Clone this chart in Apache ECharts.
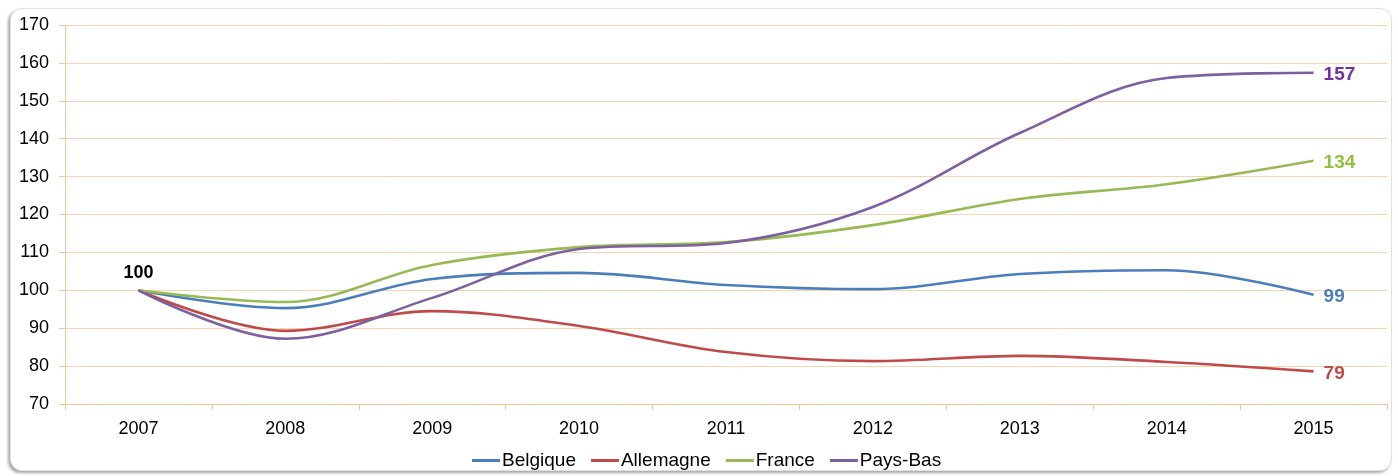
<!DOCTYPE html>
<html>
<head>
<meta charset="utf-8">
<script src="https://cdn.jsdelivr.net/npm/echarts@6/dist/echarts.min.js"></script>
<style>
html,body{margin:0;padding:0;background:#fff;}
#wrap{position:relative;width:1398px;height:476px;overflow:hidden;background:#fff;}
#frame{position:absolute;left:10px;top:8px;width:1380px;height:461px;border:1px solid #e0e0e0;border-radius:12px;box-shadow:-2px 2px 3px rgba(0,0,0,0.35);background:#fff;}
#chart{position:absolute;left:0;top:0;width:1398px;height:476px;}
</style>
</head>
<body>
<div id="wrap"><div id="frame"></div><div id="chart"></div></div>
<script>
var categories = ['2007','2008','2009','2010','2011','2012','2013','2014','2015'];
var belgique  = [100, 95.3, 103.0, 104.6, 101.4, 100.3, 104.3, 105.3, 98.8];
var allemagne = [100, 89.3, 94.5, 90.6, 83.7, 81.3, 82.7, 81.1, 78.6];
var france    = [100, 96.9, 106.7, 111.4, 112.7, 117.2, 124.1, 128.0, 134.2];
var paysBas   = [100, 87.2, 98.0, 110.9, 112.5, 122.0, 141.5, 156.0, 157.4];
var seriesNames = ['Belgique','Allemagne','France','Pays-Bas'];
var endLabels = ['99','79','134','157'];
var startLabel = '100';
var colors = ['#4a7ebb','#be4b48','#98b954','#7d60a0'];
var labelColors = ['#4a7ebb','#be4b48','#92c33e','#7030a0'];

var font = '"Liberation Sans", Arial, Helvetica, sans-serif';
var all = [belgique, allemagne, france, paysBas];

function buildData(arr, idx){
  return arr.map(function(v, i){
    if (i === arr.length - 1) {
      return {value: v, label: {show: true, position: 'right', distance: 10, offset: [0, 2], formatter: endLabels[idx],
        color: labelColors[idx], fontWeight: 'bold', fontSize: 19, fontFamily: font}};
    }
    if (i === 0 && idx === 3) {
      return {value: v, label: {show: true, position: 'top', distance: 8, formatter: startLabel,
        color: '#000', fontWeight: 'bold', fontSize: 18, fontFamily: font}};
    }
    return v;
  });
}

var series = all.map(function(arr, idx){
  return {
    name: seriesNames[idx], type: 'line', smooth: 0.35, showSymbol: true, symbol: 'circle', symbolSize: 0.01,
    lineStyle: {width: 2.6, color: colors[idx]}, itemStyle: {color: colors[idx]},
    label: {show: false},
    data: buildData(arr, idx), z: 2 + idx
  };
});

var chart = echarts.init(document.getElementById('chart'), null, {renderer: 'canvas'});
chart.setOption({
  animation: false,
  color: colors,
  grid: {left: 65, right: 11, top: 25, bottom: 72, containLabel: false},
  legend: {
    bottom: 1, left: 467, icon: 'rect', itemWidth: 28, itemHeight: 3, itemGap: 15,
    textStyle: {fontFamily: font, fontSize: 19, color: '#000', padding: [0,0,0,-3]},
    data: seriesNames
  },
  xAxis: {
    type: 'category', data: categories, boundaryGap: true,
    axisLine: {lineStyle: {color: '#f5c59a', width: 1}},
    axisTick: {show: true, length: 6, lineStyle: {color: '#f5c59a'}},
    axisLabel: {fontFamily: font, fontSize: 18, color: '#000', margin: 16},
    splitLine: {show: false}
  },
  yAxis: {
    type: 'value', min: 70, max: 170, interval: 10,
    axisLine: {show: true, lineStyle: {color: '#f5c59a', width: 1}},
    axisTick: {show: true, length: 6, lineStyle: {color: '#f5c59a'}},
    axisLabel: {fontFamily: font, fontSize: 18, color: '#000', margin: 16},
    splitLine: {show: true, lineStyle: {color: '#f9d2ae', width: 1}}
  },
  series: series
});
</script>
</body>
</html>
